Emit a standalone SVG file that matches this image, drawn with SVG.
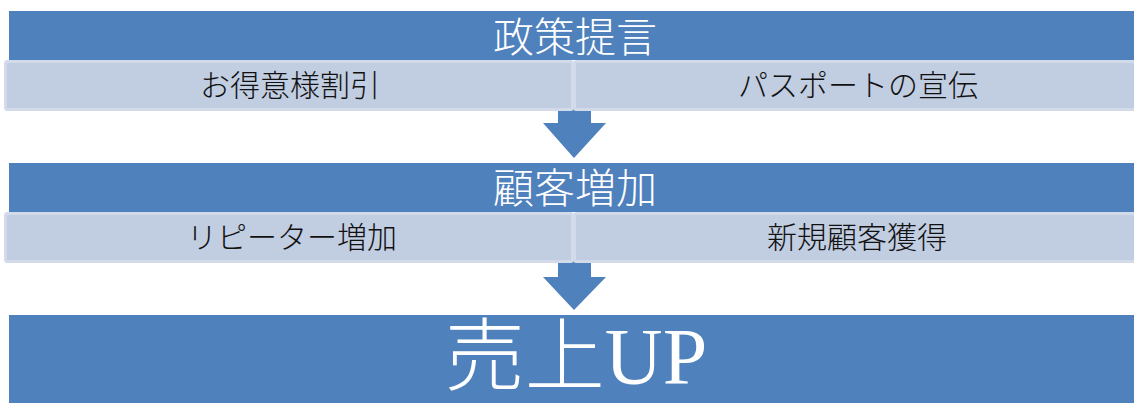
<svg xmlns="http://www.w3.org/2000/svg" width="1134" height="403" viewBox="0 0 1134 403">
<style>
.bar{fill:#4f81bd;}
.cell{fill:#c1cde1;stroke:#d3dbea;stroke-width:3;}
.arrow{fill:#4f81bd;}
.hd{font-family:"Liberation Serif","Noto Sans CJK JP",serif;font-size:41px;font-weight:300;fill:#ffffff;text-anchor:middle;}
.sub{font-family:"Liberation Serif","Noto Sans CJK JP",serif;font-size:30px;font-weight:300;fill:#111111;text-anchor:middle;}
.big{font-family:"Liberation Serif","Noto Sans CJK JP",serif;font-size:80px;font-weight:300;fill:#ffffff;text-anchor:middle;}
</style>
<rect width="1134" height="403" fill="#ffffff"/>
<g id="connectors">
<polygon class="arrow" points="558,108 591,108 591,123 606,123 574,158 543,123 558,123"/>
<polygon class="arrow" points="558,260 591,260 591,277 606,277 574,310 543,277 558,277"/>
</g>
<g id="policy">
<rect class="bar" x="9" y="11" width="1130" height="49"/>
<text class="hd" x="575" y="52">政策提言</text>
</g>
<g id="policy-a">
<rect class="cell" x="5.5" y="61.5" width="567" height="48" rx="2"/>
<text class="sub" x="290" y="96">お得意様割引</text>
</g>
<g id="policy-b">
<rect class="cell" x="574.5" y="61.5" width="565" height="48" rx="2"/>
<text class="sub" x="858" y="96">パスポートの宣伝</text>
</g>
<g id="customers">
<rect class="bar" x="9" y="163" width="1130" height="49"/>
<text class="hd" x="575" y="203">顧客増加</text>
</g>
<g id="customers-a">
<rect class="cell" x="5.5" y="213.5" width="567" height="48" rx="2"/>
<text class="sub" x="292" y="248">リピーター増加</text>
</g>
<g id="customers-b">
<rect class="cell" x="574.5" y="213.5" width="565" height="48" rx="2"/>
<text class="sub" x="857" y="248">新規顧客獲得</text>
</g>
<g id="sales">
<rect class="bar" x="9" y="315" width="1130" height="95"/>
<text class="big" x="576" y="384">売上UP</text>
</g>
</svg>
